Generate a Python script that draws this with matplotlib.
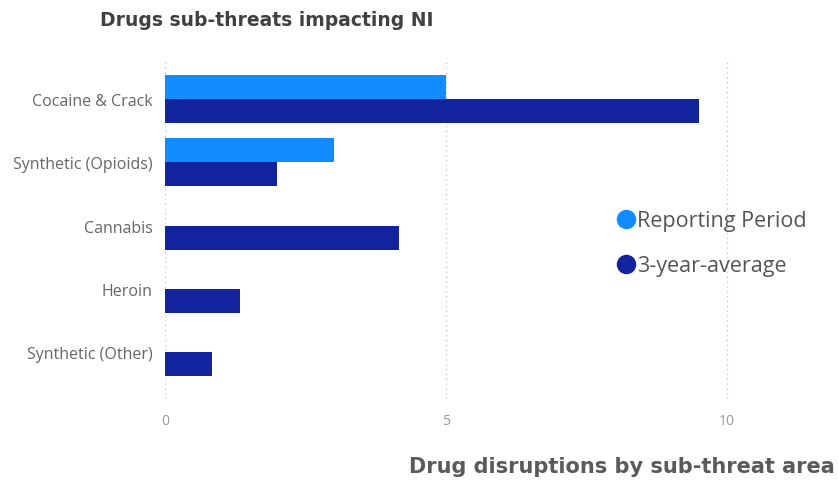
import matplotlib
matplotlib.use("Agg")
import matplotlib.pyplot as plt
import numpy as np
from matplotlib.lines import Line2D

categories = ["Cocaine & Crack", "Synthetic (Opioids)", "Cannabis", "Heroin", "Synthetic (Other)"]
reporting_period = [5, 3, 0, 0, 0]
three_year_avg = [9.5, 2.0, 4.17, 1.33, 0.83]
series_names = ["Reporting Period", "3-year-average"]
xticks = [0, 5, 10]

c_rp = "#118DFF"
c_avg = "#12239E"

W, H = 838, 481
fig = plt.figure(figsize=(W / 100, H / 100), dpi=100)
left, right = 165, 755
top, bottom = 62, 400
ax = fig.add_axes([left / W, 1 - bottom / H, (right - left) / W, (bottom - top) / H])

y = np.arange(len(categories))
h = 0.38
ax.barh(y - h / 2, reporting_period, height=h, color=c_rp, label=series_names[0], zorder=3)
ax.barh(y + h / 2, three_year_avg, height=h, color=c_avg, label=series_names[1], zorder=3)

ax.set_xlim(0, 10.5)
ax.set_ylim(4.74, -0.6)
ax.set_yticks(y)
ax.set_yticklabels(categories, fontsize=11.5, color="#666666", family="Open Sans")
ax.set_xticks(xticks)
ax.set_xticklabels([str(t) for t in xticks], fontsize=10, color="#999999", family="Open Sans")
ax.tick_params(length=0)
ax.tick_params(axis="y", pad=9)
ax.tick_params(axis="x", pad=10)
for s in ax.spines.values():
    s.set_visible(False)
ax.grid(axis="x", linestyle=(0, (1, 2.5)), color="#c8c8c8", linewidth=1, zorder=0)

fig.text(100 / W, 1 - 21 / H, "Drugs sub-threats impacting NI", fontsize=13.5, color="#404040",
         family="DejaVu Sans", fontweight="bold", va="center", ha="left")
fig.text(835 / W, 1 - 467 / H, "Drug disruptions by sub-threat area", fontsize=15, color="#5a5a5a",
         family="DejaVu Sans", fontweight="bold", va="center", ha="right")

handles = [Line2D([0], [0], marker="o", linestyle="", markersize=13, color=c) for c in (c_rp, c_avg)]
leg = fig.legend(handles, series_names, loc="upper left", bbox_to_anchor=(594 / W, 1 - 192 / H),
                 frameon=False, handletextpad=-0.1, labelspacing=1.1,
                 prop={"family": "Open Sans", "size": 15.5}, handlelength=1.2)
for t in leg.get_texts():
    t.set_color("#555555")

fig.savefig("out.png", dpi=100)
